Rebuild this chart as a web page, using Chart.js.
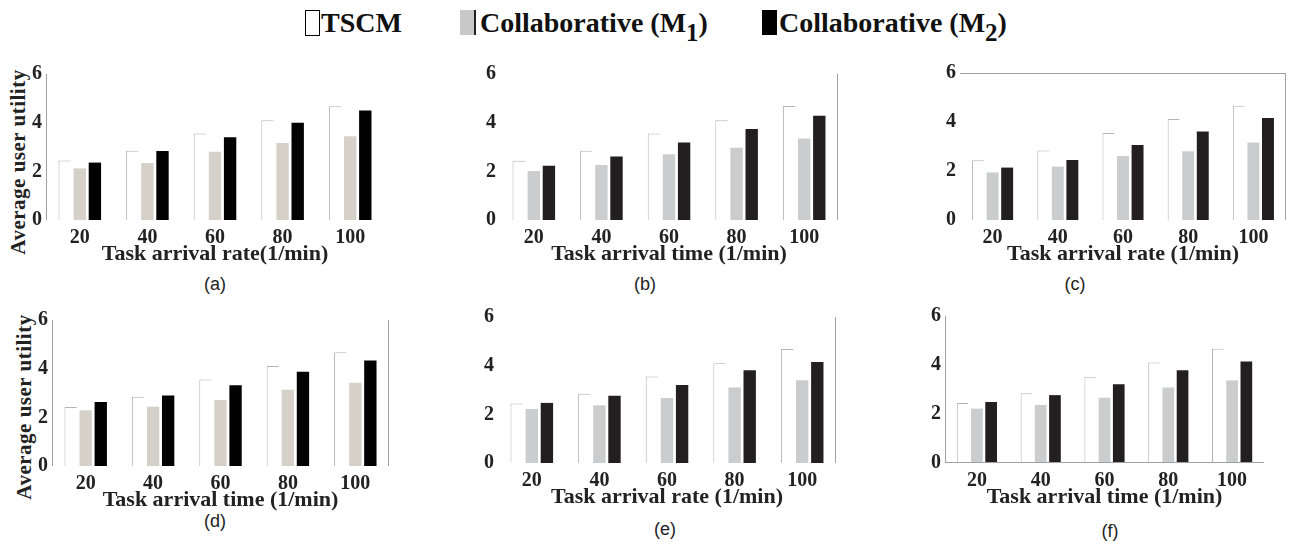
<!DOCTYPE html>
<html>
<head>
<meta charset="utf-8">
<script src="https://cdn.jsdelivr.net/npm/chart.js@4.4.0/dist/chart.umd.min.js"></script>
<style>
  body { margin: 0; background: #fff; }
  #wrap { position: relative; width: 1289px; height: 547px; overflow: hidden; font-family: "Liberation Serif", serif; }
  canvas { position: absolute; }
  .leg { position: absolute; top: 6px; font-weight: bold; font-size: 28px; line-height: 34px; color: #111; white-space: nowrap; }
  .leg sub { font-size: 25px; position: relative; top: 9px; vertical-align: baseline; line-height: 0; }
  .box { position: absolute; height: 25px; top: 10px; }
  .ytitle { position: absolute; font-weight: bold; font-size: 21px; color: #222; white-space: nowrap;
            transform: translate(-50%, -50%) rotate(-90deg); letter-spacing: 0.5px; }
  .tag { position: absolute; font-family: "Liberation Sans", sans-serif; font-size: 18px; color: #222; transform: translateX(-50%); }
</style>
</head>
<body>
<div id="wrap">
  <div class="box" style="left:305px;width:13px;border:1px solid #000;background:#fff;height:24px;"></div>
  <div class="leg" style="left:321px;">TSCM</div>
  <div class="box" style="left:460px;width:14px;background:#c8c8c8;border-right:2px solid #222;"></div>
  <div class="leg" style="left:480px;">Collaborative (M<sub>1</sub>)</div>
  <div class="box" style="left:762px;width:15px;background:#000;"></div>
  <div class="leg" style="left:779px;">Collaborative (M<sub>2</sub>)</div>

  <div class="ytitle" style="left:18px;top:162px;">Average user utility</div>
  <div class="ytitle" style="left:24px;top:407px;">Average user utility</div>

  <div class="tag" style="left:215px;top:274px;">(a)</div>
  <div class="tag" style="left:645px;top:274px;">(b)</div>
  <div class="tag" style="left:1075px;top:274px;">(c)</div>
  <div class="tag" style="left:215px;top:511px;">(d)</div>
  <div class="tag" style="left:665px;top:519px;">(e)</div>
  <div class="tag" style="left:1110px;top:521px;">(f)</div>
</div>
<script>
// Task arrival categories (x axis)
const categories = ['20', '40', '60', '80', '100'];
const yTicks = [0, 2, 4, 6];

// TSCM (white bars)
const tscmA = [2.45, 2.85, 3.55, 4.10, 4.67];
const tscmB = [2.43, 2.85, 3.55, 4.10, 4.69];
const tscmC = [2.44, 2.84, 3.55, 4.12, 4.66];
const tscmD = [2.42, 2.85, 3.55, 4.11, 4.67];
const tscmE = [2.45, 2.85, 3.55, 4.10, 4.69];
const tscmF = [2.45, 2.85, 3.52, 4.10, 4.66];

// Collaborative (M1)
const m1A = [2.12, 2.34, 2.80, 3.16, 3.44];
const m1B = [2.01, 2.26, 2.70, 2.97, 3.35];
const m1C = [1.94, 2.18, 2.61, 2.81, 3.16];
const m1D = [2.29, 2.44, 2.71, 3.13, 3.42];
const m1E = [2.22, 2.37, 2.67, 3.10, 3.40];
const m1F = [2.22, 2.37, 2.66, 3.08, 3.37];

// Collaborative (M2)
const m2A = [2.36, 2.84, 3.40, 4.00, 4.50];
const m2B = [2.23, 2.61, 3.18, 3.74, 4.28];
const m2C = [2.14, 2.45, 3.06, 3.61, 4.16];
const m2D = [2.63, 2.90, 3.32, 3.87, 4.34];
const m2E = [2.47, 2.76, 3.21, 3.81, 4.15];
const m2F = [2.49, 2.77, 3.21, 3.79, 4.14];

const xTitles = [
  'Task arrival rate(1/min)', 'Task arrival time (1/min)', 'Task arrival rate (1/min)',
  'Task arrival time (1/min)', 'Task arrival rate (1/min)', 'Task arrival time (1/min)'
];

// panel plot boxes: left, right, top, bottom + which frame edges show
const panels = [
  { id: 'a', L: 46,  R: 384,  T: 72,  B: 220, tscm: tscmA, m1: m1A, m2: m2A, warm: true,  frame: { left: true } },
  { id: 'b', L: 500, R: 838,  T: 72,  B: 220, tscm: tscmB, m1: m1B, m2: m2B, warm: false, frame: { right: true } },
  { id: 'c', L: 960, R: 1286, T: 71,  B: 220, tscm: tscmC, m1: m1C, m2: m2C, warm: false, frame: { top: true, right: true } },
  { id: 'd', L: 52,  R: 389,  T: 318, B: 466, tscm: tscmD, m1: m1D, m2: m2D, warm: true,  frame: { left: true, right: true } },
  { id: 'e', L: 498, R: 836,  T: 315, B: 463, tscm: tscmE, m1: m1E, m2: m2E, warm: false, frame: { right: true } },
  { id: 'f', L: 945, R: 1264, T: 314, B: 463, tscm: tscmF, m1: m1F, m2: m2F, warm: false, frame: { left: true, bottom: true } }
];

const Y_W = 40, X_H = 50, PAD_T = 14, PAD_R = 4;

// thin frame lines around the plot area, as in the scanned figure
const framePlugin = {
  id: 'frame',
  afterDraw(chart, args, opts) {
    const { ctx, chartArea: a } = chart;
    ctx.save();
    ctx.strokeStyle = opts.color || '#999';
    ctx.lineWidth = 1;
    ctx.beginPath();
    if (opts.left)   { ctx.moveTo(a.left + 0.5, a.top);  ctx.lineTo(a.left + 0.5, a.bottom); }
    if (opts.right)  { ctx.moveTo(a.right - 0.5, a.top); ctx.lineTo(a.right - 0.5, a.bottom); }
    if (opts.top)    { ctx.moveTo(a.left, a.top + 0.5);  ctx.lineTo(a.right, a.top + 0.5); }
    if (opts.bottom) { ctx.moveTo(a.left, a.bottom - 0.5); ctx.lineTo(a.right, a.bottom - 0.5); }
    ctx.stroke();
    ctx.restore();
  }
};

const wrap = document.getElementById('wrap');

panels.forEach((p, i) => {
  const canvas = document.createElement('canvas');
  const w = p.R - p.L + Y_W + PAD_R;
  const h = p.B - p.T + PAD_T + X_H;
  canvas.width = w;
  canvas.height = h;
  canvas.style.left = (p.L - Y_W) + 'px';
  canvas.style.top = (p.T - PAD_T) + 'px';
  wrap.appendChild(canvas);

  const grayCol = p.warm ? '#d5d1c9' : '#cbcccd';
  const darkCol = p.warm ? '#020202' : '#231f20';
  const tickFont = { family: 'Liberation Serif', size: 20, weight: 'bold' };

  new Chart(canvas.getContext('2d'), {
    type: 'bar',
    data: {
      labels: categories,
      datasets: [
        { label: 'TSCM', data: p.tscm, backgroundColor: '#ffffff', borderColor: '#b4b4b4',
          borderWidth: { top: 1, left: 1, right: 0, bottom: 0 } },
        { label: 'Collaborative (M1)', data: p.m1, backgroundColor: grayCol, borderWidth: 0 },
        { label: 'Collaborative (M2)', data: p.m2, backgroundColor: darkCol, borderWidth: 0 }
      ]
    },
    options: {
      responsive: false,
      animation: false,
      layout: { padding: { top: PAD_T, right: PAD_R, left: 0, bottom: 0 } },
      datasets: { bar: { categoryPercentage: 0.67, barPercentage: 0.82 } },
      plugins: {
        legend: { display: false },
        tooltip: { enabled: false },
        frame: Object.assign({ color: '#a0a0a0' }, p.frame)
      },
      scales: {
        x: {
          grid: { display: false, drawTicks: false },
          border: { display: false },
          ticks: { color: '#222', font: tickFont, padding: 6, maxRotation: 0 },
          title: { display: true, text: xTitles[i], color: '#222',
                   font: { family: 'Liberation Serif', size: 22, weight: 'bold' },
                   padding: { top: 0, bottom: 2 } },
          afterFit: (scale) => { scale.height = X_H; }
        },
        y: {
          min: 0, max: 6,
          afterBuildTicks: (scale) => { scale.ticks = yTicks.map(v => ({ value: v })); },
          grid: { display: false, drawTicks: false },
          border: { display: false },
          ticks: { color: '#222', font: tickFont, padding: 4 },
          afterFit: (scale) => { scale.width = Y_W; }
        }
      }
    },
    plugins: [framePlugin]
  });
});
</script>
</body>
</html>
